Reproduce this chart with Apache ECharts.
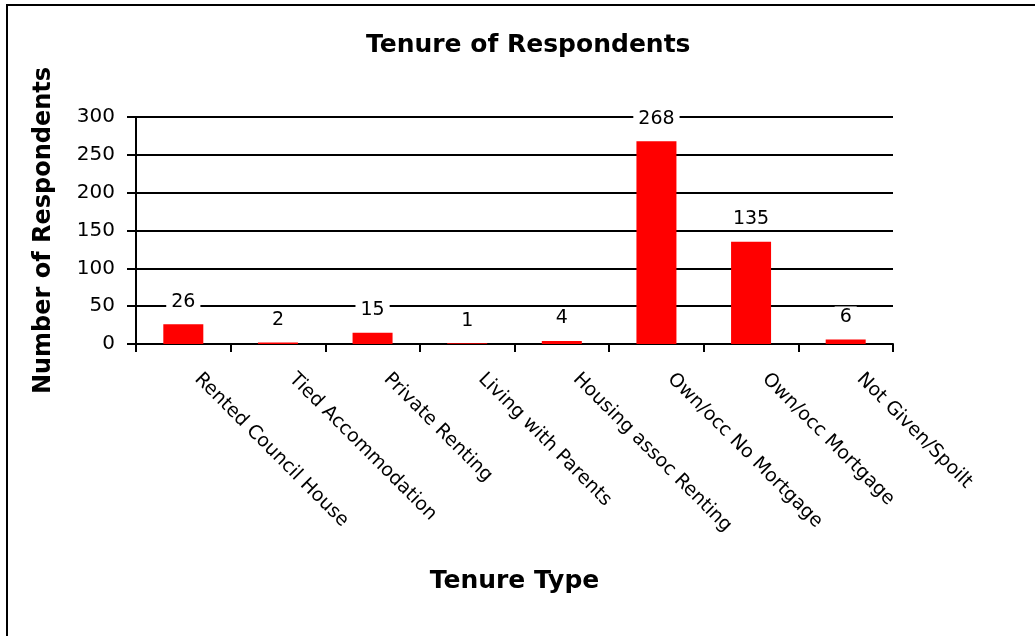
<!DOCTYPE html>
<html>
<head>
<meta charset="utf-8">
<script src="https://cdn.jsdelivr.net/npm/echarts@6/dist/echarts.min.js"></script>
<style>
html,body{margin:0;padding:0;background:#fff;}
#chart{width:1035px;height:636px;}
</style>
</head>
<body>
<div id="chart"></div>
<script>
const categories = ["Rented Council House","Tied Accommodation","Private Renting","Living with Parents","Housing assoc Renting","Own/occ No Mortgage","Own/occ Mortgage","Not Given/Spoilt"];
const respondents = [26, 2, 15, 1, 4, 268, 135, 6];
const yTicks = [0, 50, 100, 150, 200, 250, 300];

const FONT = "DejaVu Sans";
const chart = echarts.init(document.getElementById('chart'), null, {renderer:'canvas'});
chart.setOption({
  backgroundColor: '#fff',
  animation: false,
  title: {
    text: 'Tenure of Respondents',
    left: 361, top: 28,
    textStyle: {fontFamily: FONT, fontWeight: 'bold', fontSize: 25, color: '#000'}
  },
  graphic: [{
    type: 'rect',
    shape: {x: 7, y: 5, width: 2000, height: 2000},
    style: {fill: 'none', stroke: '#000', lineWidth: 2},
    silent: true
  }],
  grid: {left: 136, right: 142, top: 117, bottom: 292, containLabel: false},
  xAxis: {
    type: 'category',
    data: categories,
    name: 'Tenure Type',
    nameLocation: 'middle',
    nameGap: 225,
    nameTextStyle: {fontFamily: FONT, fontWeight: 'bold', fontSize: 25, color: '#000'},
    axisLine: {lineStyle: {color: '#000', width: 2}},
    axisTick: {show: true, inside: false, length: 8, alignWithLabel: false, lineStyle: {color: '#000', width: 2}},
    axisLabel: {rotate: -45, margin: 18, padding: [0, 0, 0, 20], interval: 0, fontFamily: FONT, fontSize: 19, color: '#000'},
    splitLine: {show: false}
  },
  yAxis: {
    type: 'value',
    min: yTicks[0],
    max: yTicks[yTicks.length - 1],
    interval: 50,
    name: 'Number of Respondents',
    nameLocation: 'middle',
    nameGap: 80,
    nameTextStyle: {fontFamily: FONT, fontWeight: 'bold', fontSize: 24, color: '#000'},
    axisLine: {show: true, lineStyle: {color: '#000', width: 2}},
    axisTick: {show: true, inside: false, length: 9, lineStyle: {color: '#000', width: 2}},
    axisLabel: {margin: 21, fontFamily: FONT, fontSize: 20, color: '#000'},
    splitLine: {show: true, lineStyle: {color: '#000', width: 2}}
  },
  series: [{
    type: 'bar',
    data: respondents,
    barWidth: 40,
    itemStyle: {color: '#FF0000'},
    label: {
      show: true,
      position: 'top',
      distance: 12,
      fontFamily: FONT,
      fontSize: 19,
      color: '#000',
      backgroundColor: '#fff',
      padding: [1, 5]
    }
  }]
});
</script>
</body>
</html>
